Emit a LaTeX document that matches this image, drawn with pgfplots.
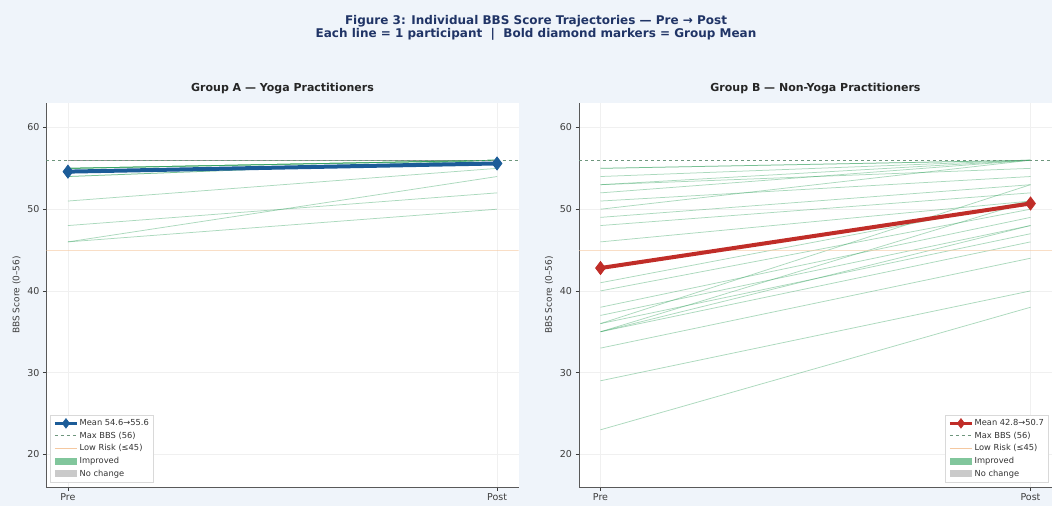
\documentclass[border=0pt]{standalone}
\usepackage{fontspec}
\setmainfont{DejaVu Sans}
\usepackage{pgfplots}
\pgfplotsset{compat=1.18}

\definecolor{figbg}{RGB}{239,244,250}
\definecolor{titlenavy}{RGB}{32,52,102}
\definecolor{meanblue}{RGB}{28,92,152}
\definecolor{meanred}{RGB}{192,45,40}
\definecolor{improved}{RGB}{46,160,90}
\definecolor{nochange}{RGB}{150,150,150}
\definecolor{maxline}{RGB}{110,150,125}
\definecolor{lowrisk}{RGB}{245,200,160}
\definecolor{tickgray}{RGB}{60,60,60}

% one participant: pre score, post score
\newcommand\up[2]{\addplot[improved, opacity=0.4, line width=0.75pt, forget plot] coordinates {(0,#1) (1,#2)};}
\newcommand\same[2]{\addplot[nochange, opacity=0.4, line width=0.75pt, forget plot] coordinates {(0,#1) (1,#2)};}

\pgfplotsset{
  longline/.style={legend image code/.code={%
    \draw[mark repeat=2,mark phase=2,##1] plot coordinates {(0pt,0pt) (11pt,0pt) (22pt,0pt)};}},
  patch/.style={legend image code/.code={%
    \fill[sharp corners,##1,draw=none] (0pt,-3.5pt) rectangle (22pt,3.5pt);}},
  bbs/.style={
    scale only axis, width=472pt, height=384pt, anchor=south west,
    xmin=-0.05, xmax=1.05, ymin=16, ymax=63,
    xtick={0,1}, xticklabels={Pre,Post},
    ytick={20,30,40,50,60},
    /pgf/number format/assume math mode=true,
    tick label style={font=\fontsize{9.5}{11}\selectfont, text=tickgray},
    tick align=outside, major tick length=3.5pt, tick style={tickgray, line width=0.6pt},
    xtick pos=bottom, ytick pos=left,
    axis x line*=bottom, axis y line*=left,
    axis line style={-, draw=gray!70!black, line width=0.8pt},
    axis background/.style={fill=white},
    grid=major, major grid style={gray!12, line width=0.5pt},
    ylabel={BBS Score (0–56)},
    ylabel style={font=\fontsize{9}{10}\selectfont, text=tickgray},
    title style={font=\bfseries\fontsize{11}{13}\selectfont, text=black!85, anchor=south, at={(0.5,1)}, inner sep=0pt, yshift=3pt},
    legend cell align=left,
    legend style={font=\fontsize{8.3}{9.5}\selectfont, draw=gray!30, fill=white,
      row sep=2.4pt, inner sep=3pt, text=black!80,
      nodes={inner sep=1.2pt}},
  }
}

\begin{document}
\begin{tikzpicture}[x=1pt,y=1pt]
\fill[figbg] (0,0) rectangle (1052,506);
\node[font=\bfseries\fontsize{12}{14}\selectfont, text=titlenavy] at (536,485) {Figure 3: Individual BBS Score Trajectories — Pre → Post};
\node[font=\bfseries\fontsize{12}{14}\selectfont, text=titlenavy] at (536,472) {Each line = 1 participant \ | \ Bold diamond markers = Group Mean};

% ---------------- Group A ----------------
\begin{axis}[bbs, at={(46.5pt,19pt)}, title={Group A — Yoga Practitioners},
  legend style={at={(0.008,0.013)}, anchor=south west}]
\addlegendimage{longline, meanblue, line width=3pt, mark=diamond*, mark size=4.8pt, mark options={line width=0.6pt}}
\addlegendentry{Mean 54.6→55.6}
\addlegendimage{longline, maxline, dashed, line width=0.8pt}
\addlegendentry{Max BBS (56)}
\addlegendimage{longline, lowrisk, line width=0.8pt}
\addlegendentry{Low Risk (≤45)}
\addlegendimage{patch, fill=improved, fill opacity=0.6}
\addlegendentry{Improved}
\addlegendimage{patch, fill=nochange, fill opacity=0.5}
\addlegendentry{No change}
% participants
\same{56}{56}\same{56}{56}\same{56}{56}\same{56}{56}\same{56}{56}\same{56}{56}
\same{56}{56}\same{56}{56}\same{56}{56}\same{56}{56}\same{56}{56}\same{56}{56}
\up{55}{56}\up{55}{56}\up{55}{56}\up{55}{56}\up{55}{56}\up{55}{56}
\up{54}{56}\up{54}{56}
\up{51}{55}\up{48}{52}\up{46}{54}\up{46}{50}
% reference levels
\addplot[maxline, dashed, line width=0.8pt, forget plot] coordinates {(-0.05,56) (1.05,56)};
\addplot[lowrisk, opacity=0.6, line width=0.8pt, forget plot] coordinates {(-0.05,45) (1.05,45)};
% group mean
\addplot[meanblue, line width=4pt, mark=diamond*, mark size=6.5pt, mark options={line width=0.8pt}, forget plot]
  coordinates {(0,54.6) (1,55.6)};
\end{axis}

% ---------------- Group B ----------------
\begin{axis}[bbs, at={(579pt,19pt)}, width=473pt, title={Group B — Non-Yoga Practitioners},
  legend style={at={(0.992,0.013)}, anchor=south east}]
\addlegendimage{longline, meanred, line width=3pt, mark=diamond*, mark size=4.8pt, mark options={line width=0.6pt}}
\addlegendentry{Mean 42.8→50.7}
\addlegendimage{longline, maxline, dashed, line width=0.8pt}
\addlegendentry{Max BBS (56)}
\addlegendimage{longline, lowrisk, line width=0.8pt}
\addlegendentry{Low Risk (≤45)}
\addlegendimage{patch, fill=improved, fill opacity=0.6}
\addlegendentry{Improved}
\addlegendimage{patch, fill=nochange, fill opacity=0.5}
\addlegendentry{No change}
% participants
\up{55}{56}\up{55}{56}\up{54}{56}\up{53}{56}\up{53}{55}\up{52}{56}
\up{51}{54}\up{50}{56}\up{49}{53}\up{48}{52}\up{46}{51}\up{41}{51}
\up{40}{50}\up{38}{49}\up{37}{48}\up{36}{53}\up{36}{47}\up{35}{46}
\up{35}{51}\up{35}{48}\up{33}{44}\up{29}{40}\up{23}{38}
% reference levels
\addplot[maxline, dashed, line width=0.8pt, forget plot] coordinates {(-0.05,56) (1.05,56)};
\addplot[lowrisk, opacity=0.6, line width=0.8pt, forget plot] coordinates {(-0.05,45) (1.05,45)};
% group mean
\addplot[meanred, line width=4pt, mark=diamond*, mark size=6.5pt, mark options={line width=0.8pt}, forget plot]
  coordinates {(0,42.8) (1,50.7)};
\end{axis}
\pgfresetboundingbox
\useasboundingbox (0,0) rectangle (1052,506);
\end{tikzpicture}
\end{document}
